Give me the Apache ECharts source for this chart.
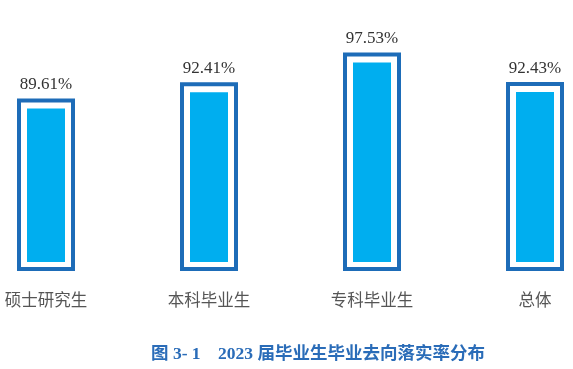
<!DOCTYPE html>
<html><head><meta charset="utf-8">
<script src="https://cdn.jsdelivr.net/npm/echarts@6/dist/echarts.min.js"></script>
<style>html,body{margin:0;padding:0;background:#fff}#c{width:573px;height:369px}</style>
</head><body><div id="c"></div>
<script>
var categories = ['硕士研究生', '本科毕业生', '专科毕业生', '总体'];
var rates = [89.61, 92.41, 97.53, 92.43];
var titleText = '图 3- 1    2023 届毕业生毕业去向落实率分布';

var chart = echarts.init(document.getElementById('c'));
var AXIS_MIN = 60;
chart.setOption({
  animation: false,
  title: {
    text: titleText, left: 313, textAlign: 'center', top: 341,
    textStyle: { fontSize: 17.5, fontWeight: 'bold', color: '#2a6cb8', fontFamily: "'Liberation Serif','Noto Sans CJK SC'" }
  },
  grid: { left: 46, right: 38, top: 38, height: 233, containLabel: false },
  xAxis: {
    type: 'category', data: categories, boundaryGap: false,
    axisLine: { show: false }, axisTick: { show: false },
    axisLabel: { margin: 20, fontSize: 16.5, color: '#555', fontFamily: "'Noto Sans CJK SC'" }
  },
  yAxis: { type: 'value', min: AXIS_MIN, max: 100, show: false, splitLine: { show: false } },
  series: [{
    type: 'custom',
    data: rates.map(function (v, i) { return [i, v]; }),
    renderItem: function (params, api) {
      var p = api.coord([api.value(0), api.value(1)]);
      var b = api.coord([api.value(0), AXIS_MIN]);
      var w = 58, lw = 4, gap = 6;
      var x0 = p[0] - w / 2, y0 = p[1], h = b[1] - p[1];
      return {
        type: 'group',
        children: [
          { type: 'rect', shape: { x: x0 + lw / 2, y: y0 + lw / 2, width: w - lw, height: h - lw },
            style: { fill: '#fff', stroke: '#1d6cb8', lineWidth: lw } },
          { type: 'rect', shape: { x: x0 + lw + gap, y: y0 + lw + gap, width: w - 2 * (lw + gap), height: h - 2 * (lw + gap) + 1 },
            style: { fill: '#00aeef' } },
          { type: 'text', style: { text: api.value(1).toFixed(2) + '%', x: p[0], y: y0 - 5, align: 'center', verticalAlign: 'bottom',
            fontSize: 17, fill: '#333', fontFamily: "'Liberation Serif'" } }
        ]
      };
    }
  }]
});
</script></body></html>
